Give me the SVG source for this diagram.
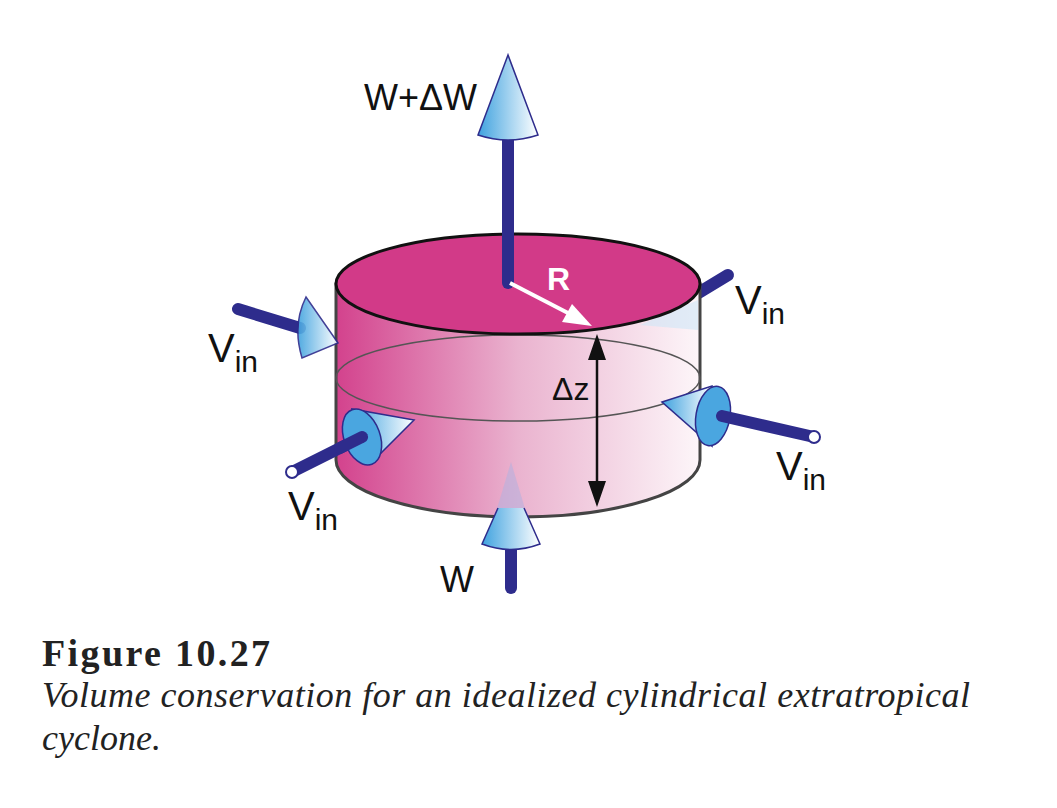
<svg xmlns="http://www.w3.org/2000/svg" width="1057" height="808" viewBox="0 0 1057 808">
<style>
.lbl{font-family:"Liberation Sans",Arial,sans-serif;font-size:40px;fill:#111}
.sub{font-size:30px}
.shaft{stroke:#2e2c8c;stroke-width:12;stroke-linecap:round;fill:none}
.cone{fill:url(#cg);stroke:#2e2c8c;stroke-width:1.5}
.disc{fill:#4aa6e0;stroke:#2e2c8c;stroke-width:1.5}
</style>
<defs>
<linearGradient id="side" x1="0" x2="1" y1="0" y2="0"><stop offset="0" stop-color="#d3428d"/><stop offset="0.5" stop-color="#eab3cf"/><stop offset="1" stop-color="#fdf6f9"/></linearGradient>
<linearGradient id="cg" x1="0" x2="1" y1="0" y2="0"><stop offset="0" stop-color="#3fa2df"/><stop offset="1" stop-color="#ffffff"/></linearGradient>
</defs>
<rect width="1057" height="808" fill="#fff"/>
<g id="vin-tr"><line class="shaft" x1="728" y1="275" x2="690" y2="298"/></g>
<g id="cylinder">
<path d="M336,284 L336,460 A182,57 0 0 0 700,460 L700,284 Z" fill="url(#side)" stroke="#444" stroke-width="3"/>
<path d="M640,325 L698,300 L698,330 Z" fill="#cfe6f6" opacity="0.6"/>
<ellipse cx="518" cy="378" rx="182" ry="43" fill="none" stroke="#555" stroke-width="1.5"/>
<ellipse cx="518" cy="284" rx="182" ry="50" fill="#d23a88" stroke="#111" stroke-width="3"/>
</g>
<g id="w-top"><line class="shaft" x1="508" y1="283" x2="508" y2="130"/>
<path class="cone" d="M508,55 L478,135 Q508,145 538,135 Z"/></g>
<g id="r-arrow"><line x1="510" y1="283" x2="568" y2="313" stroke="#fff" stroke-width="4"/>
<path d="M592,326 L562,322 L572,304 Z" fill="#fff"/>
<text x="547" y="290" style="font-family:'Liberation Sans',Arial,sans-serif;font-weight:bold;font-size:32px;fill:#fff">R</text></g>
<g id="dz"><line x1="597" y1="355" x2="597" y2="488" stroke="#111" stroke-width="2.5"/>
<path d="M597,334 L588,360 L606,360 Z M597,507 L588,481 L606,481 Z" fill="#111"/>
<text class="lbl" x="552" y="400" style="font-size:32px">Δz</text></g>
<g id="vin-tl"><line class="shaft" x1="238" y1="309" x2="300" y2="328"/>
<path class="cone" d="M338,343 L306,297 Q292,325 302,358 Z" opacity="0.9"/></g>
<g id="vin-bl"><line class="shaft" x1="292" y1="472" x2="360" y2="438"/>
<circle cx="292" cy="472" r="6" fill="#fff" stroke="#2e2c8c" stroke-width="2"/>
<path class="cone" d="M414,420 L352,409 L370,464 Z"/>
<ellipse class="disc" cx="362" cy="437" rx="18" ry="29" transform="rotate(-20 362 437)"/>
<line class="shaft" x1="362" y1="437" x2="340" y2="448"/></g>
<g id="vin-br"><path class="cone" d="M662,402 L712,386 L712,446 Z"/>
<ellipse class="disc" cx="713" cy="416" rx="17" ry="30" transform="rotate(10 713 416)"/>
<line class="shaft" x1="722" y1="416" x2="814" y2="437"/>
<circle cx="814" cy="437" r="6" fill="#fff" stroke="#2e2c8c" stroke-width="2"/></g>
<g id="w-bottom"><line class="shaft" x1="511" y1="545" x2="511" y2="588"/>
<path d="M511,462 L496,512 L526,512 Z" fill="#b7b0dd" opacity="0.6"/>
<path class="cone" d="M498,508 L482,544 Q511,555 540,544 L524,508"/></g>
<g id="labels">
<text class="lbl" x="364" y="110" style="font-size:36px">W+ΔW</text>
<text class="lbl" x="208" y="362">V<tspan class="sub" dy="10">in</tspan></text>
<text class="lbl" x="735" y="314">V<tspan class="sub" dy="10">in</tspan></text>
<text class="lbl" x="776" y="480">V<tspan class="sub" dy="10">in</tspan></text>
<text class="lbl" x="288" y="520">V<tspan class="sub" dy="10">in</tspan></text>
<text class="lbl" x="440" y="592" style="font-size:36px">W</text>
</g>
<g id="caption" style="font-family:'Liberation Serif','Times New Roman',serif;fill:#222">
<text x="42" y="666" textLength="228" style="font-size:38px;font-weight:bold">Figure 10.27</text>
<text x="42" y="707" textLength="928" style="font-size:36px;font-style:italic">Volume conservation for an idealized cylindrical extratropical</text>
<text x="42" y="750" style="font-size:36px;font-style:italic">cyclone.</text>
</g>
</svg>
